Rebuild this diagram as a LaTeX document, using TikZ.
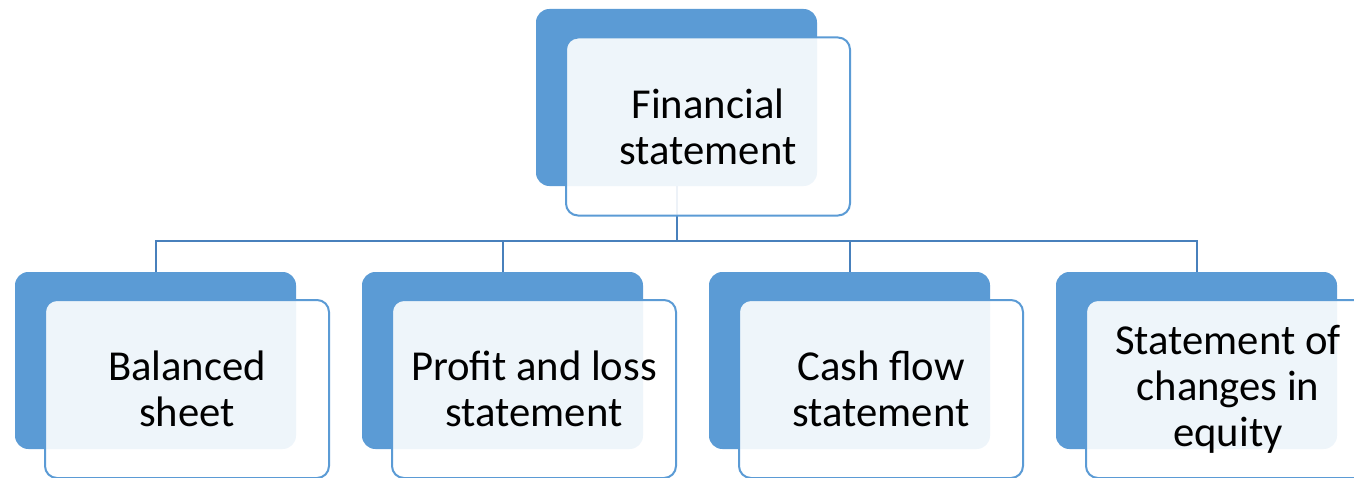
\documentclass[tikz,border=0pt]{standalone}
\usepackage{fontspec}
\setmainfont{Carlito}

\definecolor{accent}{RGB}{91,155,213}
\definecolor{linkblue}{RGB}{72,128,188}

\tikzset{
  backbox/.style={fill=accent, rounded corners=10pt, inner sep=0pt, outer sep=0pt,
    minimum width=210.75pt, minimum height=132.75pt},
  frontbox/.style={draw=accent, line width=1.5pt, fill=white, fill opacity=0.9,
    text opacity=1, rounded corners=9pt, inner sep=0pt, outer sep=0pt,
    minimum width=213pt, minimum height=133.5pt, align=center,
    font=\fontsize{32}{34.5}\selectfont},
  link/.style={draw=linkblue, line width=1.5pt},
}

\begin{document}
\begin{tikzpicture}[x=0.75pt, y=-0.75pt]
    \useasboundingbox (0,0) rectangle (1354,478);
    \coordinate (bus) at (676.5,241);
    % top item
    \node[backbox] (fin-back) at (676.5,97.5) {};
    \draw[link] (fin-back.south) -- (bus);
    \node[frontbox] (fin) at (708,126.5) {Financial\\statement};
    % the four parts
    \foreach \name/\x/\txt in {bal/155.5/{Balanced\\sheet},
        pl/502.5/{Profit and loss\\statement},
        cash/849.5/{Cash flow\\statement},
        eq/1196.5/{Statement of\\changes in\\equity}} {
      \node[backbox] (\name-back) at (\x,360.5) {};
      \draw[link] (\name-back.north) |- (bus);
      \node[frontbox] (\name) at (\x+31.5,389) {\txt};
    }
  \end{tikzpicture}
\end{document}
